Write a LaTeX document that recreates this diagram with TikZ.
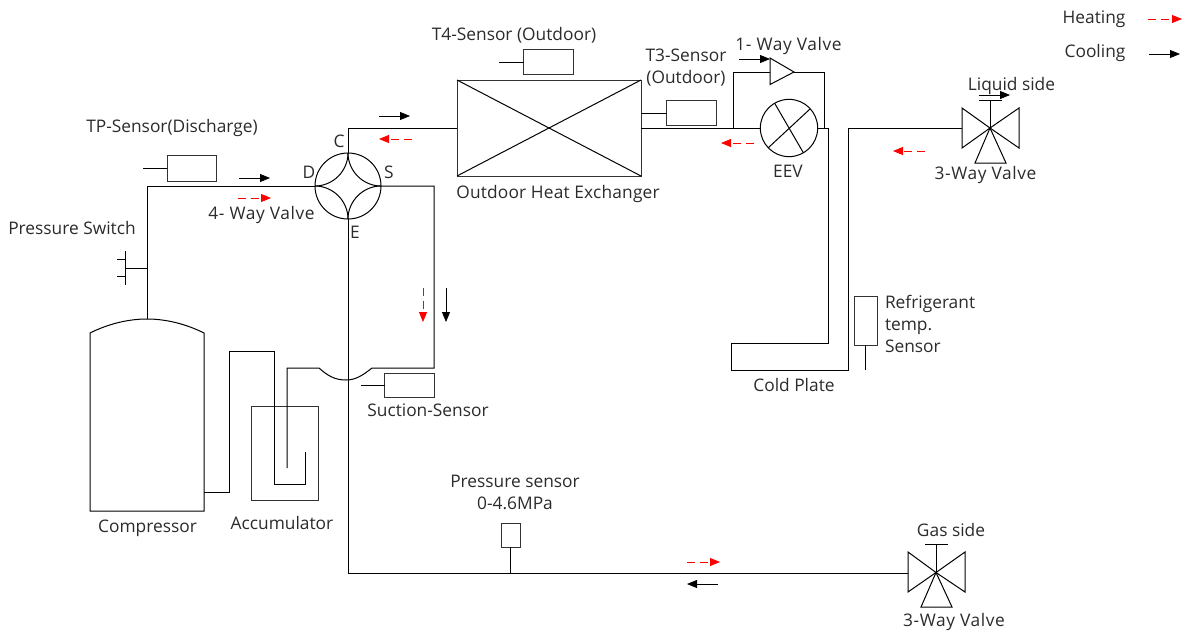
\documentclass[tikz,border=0pt]{standalone}
\usepackage{fontspec}
\setmainfont[Kerning=Off]{Open Sans}
\newfontface\wideface[Kerning=Off,LetterSpace=3.4]{Open Sans}
\newfontface\slightface[Kerning=Off,LetterSpace=1]{Open Sans}
\usetikzlibrary{arrows.meta,calc}
\definecolor{ink}{HTML}{2B2B2B}
\tikzset{
  pipe/.style={draw=black,line width=0.75pt,line join=miter},
  symbolbox/.style={draw=black!80,line width=0.75pt,fill=white,minimum width=0pt,inner sep=0pt,outer sep=0pt},
  lbl/.style={inner sep=0pt,outer sep=0pt,text=ink,font=\fontsize{13}{16.5}\selectfont,align=center},
  widelbl/.style={lbl,font=\wideface\fontsize{13}{16.5}\selectfont},
  slightlbl/.style={lbl,font=\slightface\fontsize{13}{16.5}\selectfont},
  coolarrow/.style={draw=black,line width=0.6pt,-{Triangle[length=7.5pt,width=6pt]}},
  heatarrow/.style={draw=red,line width=0.6pt,dash pattern=on 6pt off 3.5pt,-{Triangle[length=7.5pt,width=6pt,fill=red]}}
}
\begin{document}
\begin{tikzpicture}[x=0.75pt,y=-0.75pt]
\useasboundingbox (0,0) rectangle (1189,632);
% ---- key coordinates
\coordinate (vc) at (348,186);
\coordinate (vC) at (348,153);
\coordinate (vD) at (315,186);
\coordinate (vS) at (381,186);
\coordinate (vE) at (348,219);
\coordinate (comptop) at (147,319);
\coordinate (eevc) at (789,128);
\coordinate (lq) at (990,128);
\coordinate (gs) at (936,572.5);
% ---- compressor
\draw[pipe] (90,333) .. controls (108,324) and (128,319) .. (comptop) .. controls (166,319) and (186,324) .. (204,333) -- (204,511) -- (90,511) -- cycle;
\coordinate (compout) at (204,492);
% ---- accumulator
\node[symbolbox,minimum width=50.25pt,minimum height=70.5pt,fill=none] (accum) at (284.5,453) {};
% ---- 4-way valve
\node[draw=black,line width=0.75pt,circle,minimum size=49.5pt,inner sep=0pt,outer sep=0pt] (fourway) at (vc) {};
\draw[pipe] (vC) .. controls (348,171) and (333,186) .. (vD);
\draw[pipe] (vC) .. controls (348,171) and (363,186) .. (vS);
\draw[pipe] (vE) .. controls (348,201) and (333,186) .. (vD);
\draw[pipe] (vE) .. controls (348,201) and (363,186) .. (vS);
% ---- pipes
\draw[pipe] (comptop) -- (147,186) -- (vD);
\draw[pipe] (vC) -- (348,128) -- (457,128);
\draw[pipe] (vS) -- (434,186) -- (434,368) -- (372,368) .. controls (362,376) and (355,380) .. (346,380) .. controls (335,380) and (328,376) .. (319,368) -- (287,368) -- (287,468);
\draw[pipe] (vE) -- (348,573) -- (908,573);
\draw[pipe] (compout) -- (229,492) -- (229,351) -- (274,351) -- (274,484) -- (305,484) -- (305,452);
% ---- heat exchanger
\node[symbolbox,minimum width=138pt,minimum height=72pt,fill=none] (hx) at (549,128) {};
\draw[pipe] (hx.north west) -- (hx.south east);
\draw[pipe] (hx.south west) -- (hx.north east);
% ---- sensors
\node[symbolbox,minimum width=37pt,minimum height=19pt] (t4) at (548.5,62) {};
\draw[pipe] (t4.west) -- (499,62);
\node[symbolbox,minimum width=37pt,minimum height=18.5pt] (t3) at (691.5,113) {};
\draw[pipe] (t3.west) -- (641,113);
\node[symbolbox,minimum width=37pt,minimum height=19pt] (tp) at (192,168.5) {};
\draw[pipe] (tp.west) -- (143,168.5);
\node[symbolbox,minimum width=37pt,minimum height=18pt] (suc) at (409.5,385) {};
\draw[pipe] (suc.west) -- (361,385);
\node[symbolbox,minimum width=14.25pt,minimum height=17.5pt] (ps) at (510.5,535.5) {};
\draw[pipe] (ps.south) -- (510.5,573);
\node[symbolbox,minimum width=17.25pt,minimum height=36.75pt] (rt) at (865.5,320.5) {};
\draw[pipe] (rt.south) -- (865.5,369.5);
% ---- pressure switch
\draw[pipe] (147,268) -- (125,268);
\draw[pipe] (125,251) -- (125,285);
\draw[pipe] (117,259) -- (125,259);
\draw[pipe] (117,276) -- (125,276);
% ---- EEV and 1-way valve
\node[draw=black,line width=0.75pt,circle,minimum size=43pt,inner sep=0pt,outer sep=0pt] (eev) at (eevc) {};
\draw[pipe] (774.5,103) -- (803.5,153);
\draw[pipe] (810,109) -- (768,148);
\draw[pipe] (641,128) -- (eev.west);
\draw[pipe] (733,128) -- (733,72) -- (770,72);
\draw[pipe] (770,58) -- (794,72) -- (770,84.5) -- cycle;
\draw[pipe] (794,72) -- (824,72) -- (824,128);
\draw[pipe] (eev.east) -- (828.5,128) -- (828.5,343) -- (731,343) -- (731,370) -- (848.5,370) -- (848.5,128) -- (962,128);
% ---- liquid 3-way valve
\draw[pipe] (lq) -- (962,108) -- (962,148) -- cycle;
\draw[pipe] (lq) -- (1019,108) -- (1019,148) -- cycle;
\draw[pipe] (lq) -- (975,163) -- (1006,163) -- cycle;
\draw[pipe] (lq) -- (990,100);
\draw[pipe] (979,100) -- (1002,100);
% ---- gas 3-way valve
\draw[pipe] (gs) -- (908,552) -- (908,592) -- cycle;
\draw[pipe] (gs) -- (965,552) -- (965,592) -- cycle;
\draw[pipe] (gs) -- (921,607) -- (952,607) -- cycle;
\draw[pipe] (gs) -- (936,544);
\draw[pipe] (925,544) -- (948,544);
% ---- flow arrows
\draw[coolarrow] (239,178) -- (270,178);
\draw[heatarrow] (238,198) -- (271,198);
\draw[coolarrow] (379,116) -- (410,116);
\draw[heatarrow] (412,139) -- (379,139);
\draw[heatarrow] (754,143) -- (721,143);
\draw[coolarrow] (739,59) -- (770,59);
\draw[coolarrow] (979,95) -- (1010,95);
\draw[heatarrow] (925,151) -- (893,151);
\draw[heatarrow] (423,288) -- (423,322);
\draw[coolarrow] (446,288) -- (446,322);
\draw[heatarrow] (687,562) -- (720,562);
\draw[coolarrow] (718,584) -- (687,584);
\draw[heatarrow] (1148,19) -- (1182,19);
\draw[coolarrow] (1149,54) -- (1180,54);
% ---- labels
\node[lbl] (l1) at (1094,19) {Heating};
\node[lbl] (l2) at (1095,53) {Cooling};
\node[lbl] (l3) at (514,35) {T4-Sensor (Outdoor)};
\node[lbl] (l4) at (686,68) {T3-Sensor\\(Outdoor)};
\node[widelbl] (l5) at (788.5,46) {1- Way Valve};
\node[lbl] (l6) at (1011.5,86) {Liquid side};
\node[widelbl] (l7) at (985.5,175) {3-Way Valve};
\node[lbl] (l8) at (788,171) {EEV};
\node[slightlbl] (l9) at (558,194) {Outdoor Heat Exchanger};
\node[lbl] (l10) at (172,128) {TP-Sensor(Discharge)};
\node[widelbl] (l11) at (261.5,215) {4- Way Valve};
\node[lbl] (l12) at (72,228) {Pressure Switch};
\node[lbl] (l13) at (339,141) {C};
\node[lbl] (l14) at (309,172) {D};
\node[lbl] (l15) at (389,172) {S};
\node[lbl] (l16) at (355,232) {E};
\node[lbl] (l17) at (428,410) {Suction-Sensor};
\node[lbl] (l18) at (147.5,528) {Compressor};
\node[lbl] (l19) at (282,523) {Accumulator};
\node[lbl] (l20) at (794,385) {Cold Plate};
\node[lbl,anchor=west,align=left] (l21) at (885,324) {Refrigerant\\temp.\\Sensor};
\node[lbl] (l22) at (515,492) {Pressure sensor\\0-4.6MPa};
\node[lbl] (l23) at (951,530) {Gas side};
\node[widelbl] (l24) at (954,622) {3-Way Valve};
\end{tikzpicture}
\end{document}
